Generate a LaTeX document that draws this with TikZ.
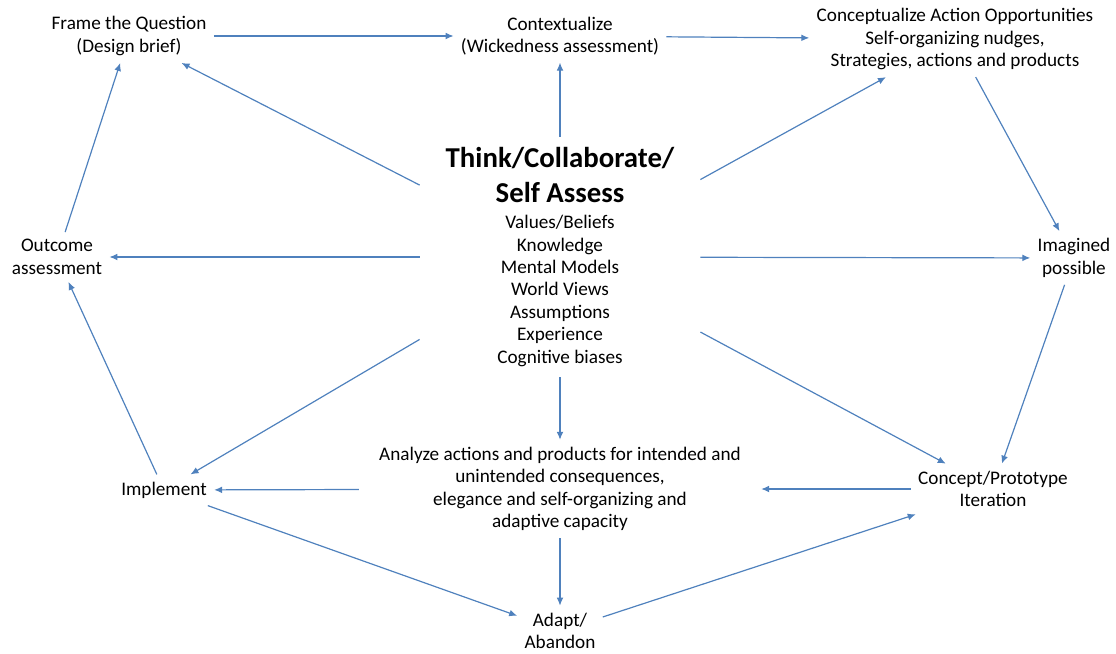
\documentclass[tikz,border=0pt]{standalone}
\usepackage{fontspec}
\setmainfont{Carlito}
\usepackage{tikz}
\usetikzlibrary{positioning,arrows.meta}
\definecolor{edgeblue}{RGB}{79,129,189}
\newcommand{\bodysize}{\fontsize{9.6}{11.2}\selectfont}
\newcommand{\headsize}{\fontsize{14.4}{17.5}\selectfont\bfseries}
\tikzset{
  lbl/.style ={align=center, font=\bodysize, inner sep=3.5pt},
  core/.style={align=center, font=\bodysize, inner sep=0pt,
               minimum width=140pt, minimum height=120pt},
  ar/.style  ={-{Latex[length=4pt,width=3.4pt]}, draw=edgeblue, line width=0.6pt},
}
\begin{document}
\begin{tikzpicture}[x=0.5pt,y=-0.5pt]
\useasboundingbox (0,0) rectangle (1116,654);
% outer ring
\node[lbl] (frame)   at (129,36)  {Frame the Question\\(Design brief)};
\node[lbl] (context) at (560,36)  {Contextualize\\(Wickedness assessment)};
\node[lbl] (concept) at (955,39)  {Conceptualize Action Opportunities\\Self-organizing nudges,\\Strategies, actions and products};
\node[lbl] (outcome) at (57,257)  {Outcome\\assessment};
\node[lbl] (imagine) at (1074,258) {Imagined\\possible};
\node[lbl] (implem)  at (164,490) {Implement};
\node[lbl] (proto)   at (993,489) {Concept/Prototype\\Iteration};
\node[lbl,inner xsep=10pt] (analyze) at (560,489) {Analyze actions and products for intended and\\unintended consequences,\\elegance and self-organizing and\\adaptive capacity};
\node[lbl] (adapt)   at (560,631) {Adapt/\\Abandon};

% centre
\node[core] (think) at (560,257)
  {{\headsize Think/Collaborate/}\\[6pt]{\headsize Self Assess}\\[2pt]
   Values/Beliefs\\Knowledge\\Mental Models\\World Views\\Assumptions\\Experience\\Cognitive biases};

% cycle
\draw[ar] (frame) -- (context);
\draw[ar] (context) -- (concept);
\draw[ar] (concept) -- (imagine);
\draw[ar] (imagine) -- (proto);
\draw[ar] (proto) -- (analyze);
\draw[ar] (analyze) -- (implem);
\draw[ar] (implem) -- (outcome);
\draw[ar] (outcome) -- (frame);
\draw[ar] (implem) -- (adapt);
\draw[ar] (adapt) -- (proto);
\draw[ar] (analyze) -- (adapt);

% spokes
\foreach \target in {context,frame,concept,outcome,imagine,implem,proto,analyze}
  \draw[ar] (think) -- (\target);
\end{tikzpicture}
\end{document}
